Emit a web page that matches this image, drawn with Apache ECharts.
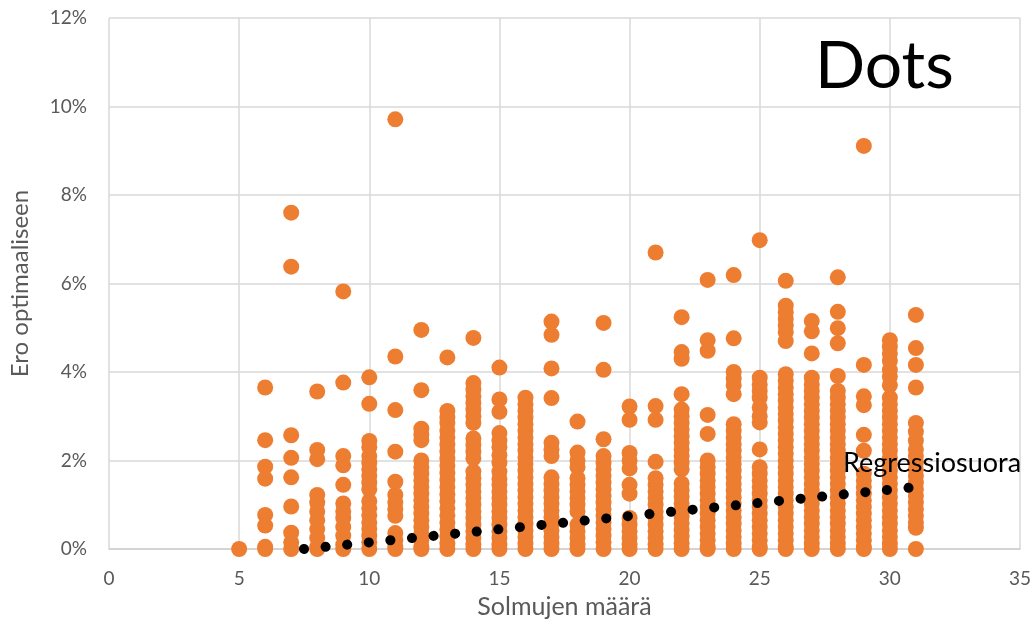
<!DOCTYPE html>
<html>
<head>
<meta charset="utf-8">
<script src="https://cdn.jsdelivr.net/npm/echarts@6/dist/echarts.min.js"></script>
<style>
html,body{margin:0;padding:0;background:#fff;}
#chart{width:1035px;height:628px;}
</style>
</head>
<body>
<div id="chart"></div>
<script>
// Node counts (x) and the % gaps observed for each count (y, in percent)
const solmut = [5,6,7,8,9,10,11,12,13,14,15,16,17,18,19,20,21,22,23,24,25,26,27,28,29,30,31];
const erot = [
  [0],
  [3.65,2.46,1.86,1.59,0.77,0.53,0.05,0],
  [7.60,6.38,2.57,2.06,1.62,0.96,0.37,0.15,0],
  [3.56,2.24,2.03,1.22,1.05,0.85,0.65,0.45,0.25,0.05,0],
  [5.82,3.76,2.10,1.89,1.45,1.03,0.85,0.7,0.5,0.3,0.1,0],
  [3.88,3.28,2.44,2.30,2.10,1.95,1.80,1.65,1.50,1.35,1.08,0.92,0.76,0.6,0.45,0.3,0.15,0],
  [9.71,4.35,3.14,2.20,1.52,1.22,1.05,0.9,0.75,0.36,0.2,0.05,0],
  [4.95,3.59,2.72,2.58,2.46,2.0,1.85,1.7,1.55,1.4,1.25,1.1,0.95,0.8,0.65,0.5,0.35,0.2,0.05,0],
  [4.33,3.12,2.97,2.85,2.68,2.52,2.36,2.2,2.04,1.88,1.72,1.56,1.4,1.24,1.08,0.92,0.76,0.6,0.44,0.28,0.12,0],
  [4.77,3.75,3.6,3.45,3.3,3.15,3.0,2.85,2.5,2.35,2.2,2.05,1.75,1.6,1.45,1.3,1.15,1.0,0.85,0.7,0.55,0.4,0.25,0.1,0],
  [4.10,3.38,3.1,2.62,2.45,2.3,2.12,1.95,1.75,1.58,1.45,1.3,1.15,1.0,0.85,0.7,0.55,0.4,0.25,0.1,0],
  [3.42,3.27,3.12,2.97,2.82,2.67,2.52,2.37,2.22,2.07,1.92,1.77,1.62,1.47,1.32,1.17,1.02,0.87,0.72,0.57,0.42,0.27,0.12,0],
  [5.14,4.84,4.08,3.41,2.4,2.25,2.1,1.62,1.47,1.32,1.17,1.02,0.87,0.72,0.57,0.42,0.27,0.12,0],
  [2.88,2.18,2.0,1.85,1.6,1.45,1.3,1.15,1.0,0.85,0.55,0.4,0.25,0.1,0],
  [5.11,4.05,2.48,2.1,1.95,1.8,1.65,1.5,1.35,1.2,1.05,0.9,0.75,0.6,0.45,0.3,0.15,0],
  [3.22,2.92,2.17,2.0,1.82,1.45,1.25,0.7,0.55,0.4,0.25,0.1,0],
  [6.70,3.23,2.92,1.97,1.6,1.45,1.3,1.15,1.0,0.85,0.7,0.55,0.4,0.25,0.1,0],
  [5.24,4.45,4.3,3.50,3.15,3.0,2.85,2.7,2.55,2.4,2.25,2.1,1.95,1.8,1.48,1.33,1.18,1.03,0.88,0.73,0.58,0.43,0.28,0.13,0],
  [6.08,4.72,4.48,3.03,2.60,2.0,1.85,1.7,1.55,1.4,1.25,1.1,0.95,0.8,0.65,0.5,0.35,0.2,0.05,0],
  [6.19,4.76,4.0,3.85,3.7,3.5,2.82,2.67,2.52,2.37,2.22,2.07,1.92,1.77,1.62,1.47,1.32,1.17,1.02,0.87,0.72,0.57,0.42,0.27,0.12,0],
  [6.98,3.87,3.72,3.57,3.42,3.2,3.0,2.86,2.25,1.85,1.7,1.55,1.4,1.25,1.1,0.95,0.8,0.65,0.5,0.35,0.2,0.05,0],
  [6.06,5.5,5.35,5.2,5.05,4.9,4.7,3.95,3.8,3.65,3.5,3.35,3.2,3.05,2.9,2.75,2.6,2.45,2.3,2.15,2.0,1.85,1.7,1.55,1.4,1.25,1.1,0.95,0.8,0.65,0.5,0.35,0.2,0.05,0],
  [5.15,4.92,4.42,3.87,3.72,3.57,3.42,3.27,3.12,2.97,2.82,2.67,2.52,2.37,2.22,2.07,1.92,1.77,1.62,1.47,1.32,1.17,1.02,0.87,0.72,0.57,0.42,0.27,0.12,0],
  [6.14,5.36,4.99,4.65,3.91,3.57,3.42,3.27,3.12,2.97,2.82,2.67,2.52,2.37,2.22,2.07,1.92,1.77,1.62,1.47,1.32,1.17,1.02,0.87,0.72,0.57,0.42,0.27,0.12,0],
  [9.11,4.16,3.45,3.25,2.58,2.22,1.7,1.55,1.4,1.25,1.1,0.95,0.8,0.65,0.5,0.35,0.2,0.05,0],
  [4.72,4.57,4.42,4.25,4.05,3.9,3.7,3.42,3.27,3.12,2.97,2.82,2.67,2.52,2.37,2.22,2.07,1.92,1.77,1.62,1.47,1.32,1.17,1.02,0.87,0.72,0.57,0.42,0.27,0.12,0],
  [5.29,4.54,4.16,3.65,2.85,2.65,2.45,2.25,2.1,1.95,1.8,1.65,1.5,1.35,1.2,1.05,0.9,0.75,0.6,0.48,0]
];
// Regression line end points (x, y in percent)
const regressionX = [7.49, 31];
const regressionY = [0.0, 1.40];
const xTicks = [0,5,10,15,20,25,30,35];
const yTickLabels = ['0%','2%','4%','6%','8%','10%','12%'];

const scatterData = [];
solmut.forEach((x, i) => erot[i].forEach(y => scatterData.push([x, y])));
const regData = regressionX.map((x, i) => [x, regressionY[i]]);

const FONT = 'Lato';
const chart = echarts.init(document.getElementById('chart'), null, {renderer: 'canvas'});
chart.setOption({
  backgroundColor: '#ffffff',
  animation: false,
  grid: {left: 107, right: 15, top: 18, bottom: 79},
  xAxis: {
    type: 'value', min: xTicks[0], max: xTicks[xTicks.length - 1], interval: 5,
    name: 'Solmujen määrä', nameLocation: 'middle', nameGap: 45,
    nameTextStyle: {fontFamily: FONT, fontSize: 25, color: '#595959'},
    axisLine: {show: true, lineStyle: {color: '#d0d0d0', width: 1.5}},
    axisTick: {show: false},
    axisLabel: {fontFamily: FONT, fontSize: 19, color: '#595959', margin: 20},
    splitLine: {show: true, lineStyle: {color: '#d9d9d9', width: 1.5}}
  },
  yAxis: {
    type: 'value', min: 0, max: 12, interval: 2,
    name: 'Ero optimaaliseen', nameLocation: 'middle', nameGap: 77,
    nameTextStyle: {fontFamily: FONT, fontSize: 24, color: '#595959'},
    axisLine: {show: false},
    axisTick: {show: false},
    axisLabel: {fontFamily: FONT, fontSize: 19, color: '#595959', margin: 22,
      formatter: v => yTickLabels[Math.round(v / 2)]},
    splitLine: {show: true, lineStyle: {color: '#d9d9d9', width: 1.5}}
  },
  series: [
    {
      type: 'scatter', data: scatterData, symbol: 'circle', symbolSize: 16,
      itemStyle: {color: '#ED7D31', opacity: 1}, z: 2
    },
    {
      type: 'line', data: regData, symbol: 'none', clip: true, z: 3,
      lineStyle: {color: '#000000', width: 10, type: [0.1, 21.6], cap: 'round', dashOffset: 0}
    }
  ],
  graphic: [
    {type: 'text', left: 843, top: 450, z: 10,
      style: {text: 'Regressiosuora', fontFamily: FONT, fontSize: 27, fill: '#000000'}},
    {type: 'text', left: 815, top: 34, z: 10,
      style: {text: 'Dots', fontFamily: FONT, fontSize: 66, fill: '#000000'}}
  ]
});
</script>
</body>
</html>
